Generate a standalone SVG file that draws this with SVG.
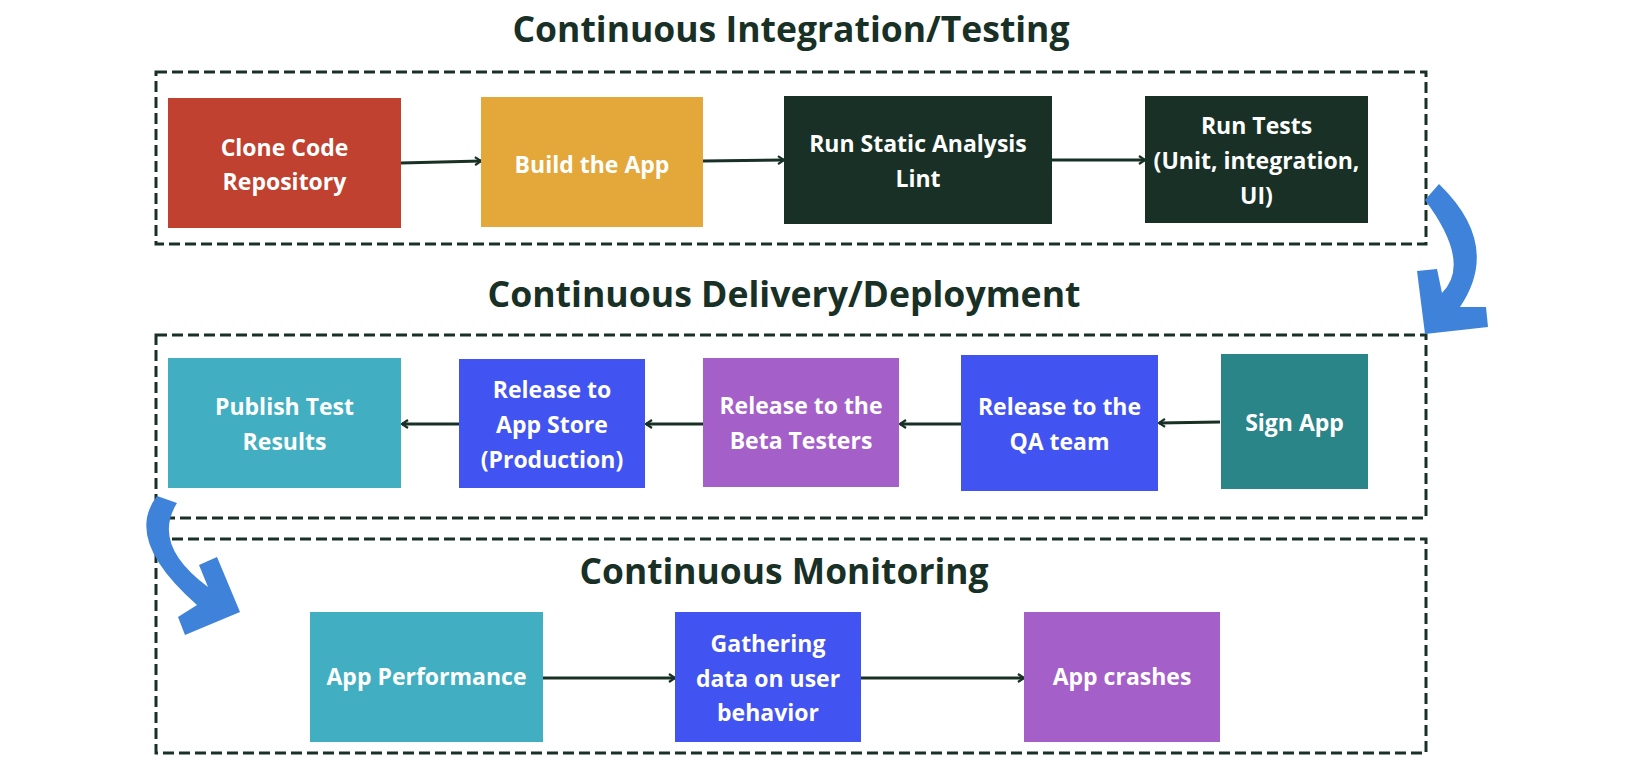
<svg xmlns="http://www.w3.org/2000/svg" width="1650" height="770" viewBox="0 0 1650 770">
<style>
.title{font-family:"Open Sans","Liberation Sans",sans-serif;font-weight:700;font-size:36px;fill:#183025;text-anchor:middle}
.lbl{font-family:"Open Sans","Liberation Sans",sans-serif;font-weight:700;font-size:23px;fill:#ffffff;text-anchor:middle}
.frame{fill:none;stroke:#183025;stroke-width:3;stroke-dasharray:11 5}
.conn{fill:none;stroke:#183025;stroke-width:3;marker-end:url(#ah)}
.curve{fill:#3f82d9}
</style>
<defs>
<marker id="ah" viewBox="0 0 10 10" refX="8" refY="5" markerWidth="10" markerHeight="10" markerUnits="userSpaceOnUse" orient="auto">
<path d="M2,1 L8,5 L2,9" fill="none" stroke="#183025" stroke-width="2.2"/>
</marker>
</defs>
<rect width="1650" height="770" fill="#ffffff"/>

<g id="titles">
<text class="title" x="791" y="42" textLength="557" lengthAdjust="spacingAndGlyphs">Continuous Integration/Testing</text>
<text class="title" x="784" y="307" textLength="593" lengthAdjust="spacingAndGlyphs">Continuous Delivery/Deployment</text>
<text class="title" x="784" y="584" textLength="409" lengthAdjust="spacingAndGlyphs">Continuous Monitoring</text>
</g>

<g id="frames">
<rect class="frame" x="156" y="72" width="1270" height="172"/>
<rect class="frame" x="156" y="335" width="1270" height="183"/>
<rect class="frame" x="156" y="539" width="1270" height="214"/>
</g>

<g id="connectors">
<line class="conn" x1="401" y1="163" x2="481" y2="161"/>
<line class="conn" x1="703" y1="161" x2="784" y2="160"/>
<line class="conn" x1="1052" y1="160" x2="1145" y2="160"/>
<line class="conn" x1="1220" y1="422" x2="1159" y2="423"/>
<line class="conn" x1="961" y1="424" x2="900" y2="424"/>
<line class="conn" x1="703" y1="424" x2="646" y2="424"/>
<line class="conn" x1="459" y1="424" x2="402" y2="424"/>
<line class="conn" x1="543" y1="678" x2="675" y2="678"/>
<line class="conn" x1="861" y1="678" x2="1024" y2="678"/>
<path class="curve" d="M1439,184 Q1502,245 1460,307 L1486,307 L1488,327 L1425,334 L1417,271 L1437,269 L1442,293 Q1472,263 1425,200 Z"/>
<path class="curve" d="M157,496 L177,503 Q151,545 208,587 L199,565 L217,557 L240,612 L185,635 L178,617 L197,605 Q123,540 157,496 Z"/>
</g>

<g id="clone">
<rect x="168" y="98" width="233" height="130" fill="#c0412f"/>
<text class="lbl" x="284.5" y="156">Clone Code</text>
<text class="lbl" x="284.5" y="190">Repository</text>
</g>
<g id="build">
<rect x="481" y="97" width="222" height="130" fill="#e4a73a"/>
<text class="lbl" x="592" y="173">Build the App</text>
</g>
<g id="static">
<rect x="784" y="96" width="268" height="128" fill="#183025"/>
<text class="lbl" x="918" y="152">Run Static Analysis</text>
<text class="lbl" x="918" y="187">Lint</text>
</g>
<g id="tests">
<rect x="1145" y="96" width="223" height="127" fill="#183025"/>
<text class="lbl" x="1256.5" y="134">Run Tests</text>
<text class="lbl" x="1256.5" y="169">(Unit, integration,</text>
<text class="lbl" x="1256.5" y="204">UI)</text>
</g>

<g id="publish">
<rect x="168" y="358" width="233" height="130" fill="#41afc1"/>
<text class="lbl" x="284.5" y="415">Publish Test</text>
<text class="lbl" x="284.5" y="450">Results</text>
</g>
<g id="appstore">
<rect x="459" y="359" width="186" height="129" fill="#4153f0"/>
<text class="lbl" x="552" y="398">Release to</text>
<text class="lbl" x="552" y="433">App Store</text>
<text class="lbl" x="552" y="468">(Production)</text>
</g>
<g id="beta">
<rect x="703" y="358" width="196" height="129" fill="#a45fc9"/>
<text class="lbl" x="801" y="414">Release to the</text>
<text class="lbl" x="801" y="449">Beta Testers</text>
</g>
<g id="qa">
<rect x="961" y="355" width="197" height="136" fill="#4153f0"/>
<text class="lbl" x="1059.5" y="415">Release to the</text>
<text class="lbl" x="1059.5" y="450">QA team</text>
</g>
<g id="sign">
<rect x="1221" y="354" width="147" height="135" fill="#2a8589"/>
<text class="lbl" x="1294.5" y="431">Sign App</text>
</g>

<g id="perf">
<rect x="310" y="612" width="233" height="130" fill="#41afc1"/>
<text class="lbl" x="426.5" y="685">App Performance</text>
</g>
<g id="gathering">
<rect x="675" y="612" width="186" height="130" fill="#4153f0"/>
<text class="lbl" x="768" y="652">Gathering</text>
<text class="lbl" x="768" y="687">data on user</text>
<text class="lbl" x="768" y="721">behavior</text>
</g>
<g id="crashes">
<rect x="1024" y="612" width="196" height="130" fill="#a45fc9"/>
<text class="lbl" x="1122" y="685">App crashes</text>
</g>
</svg>
